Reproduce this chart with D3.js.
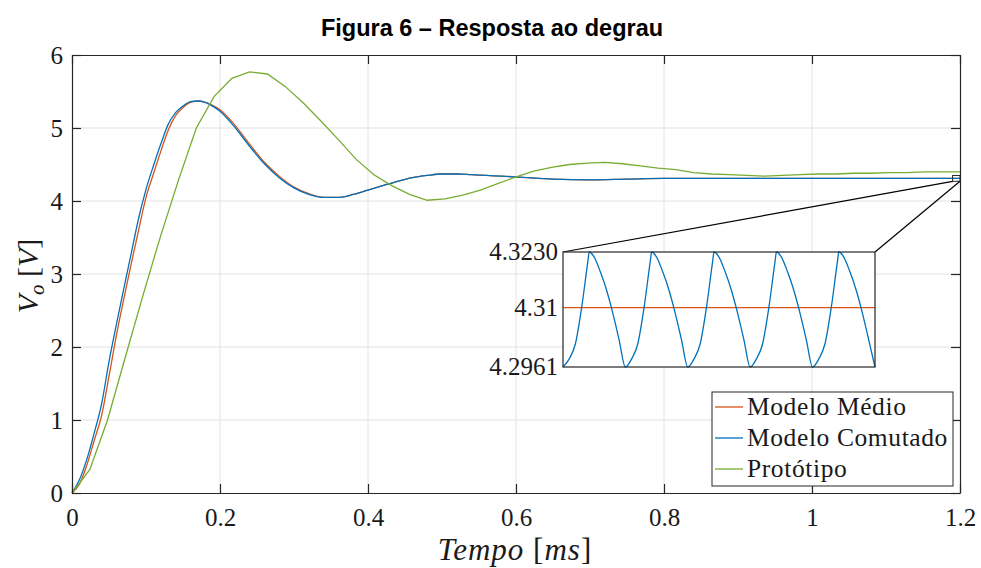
<!DOCTYPE html>
<meta charset="utf-8">
<style>
body { margin: 0; background: #fff; }
svg { font-family: "Liberation Serif", "Times New Roman", serif; }
.grid line { stroke: #e2e2e2; stroke-width: 1px; }
.axis path, .axis line { stroke: #262626; stroke-width: 1.2px; }
.axis text { fill: #1a1a1a; font-size: 25px; font-family: "Liberation Serif", serif; }
.title { font-family: "Liberation Sans", Arial, sans-serif; font-weight: bold; font-size: 23.5px; }
.curve { fill: none; stroke-width: 1.3px; }
</style>
<body>
<script src="https://cdn.jsdelivr.net/npm/d3@7"></script>
<script>
// Modelo Medio (orange)
var tMedio = [0, 0.01, 0.02, 0.03, 0.04, 0.05, 0.06, 0.07, 0.08, 0.09, 0.10, 0.11, 0.12, 0.13, 0.14, 0.15, 0.16, 0.17, 0.18, 0.19, 0.20,
  0.22, 0.24, 0.26, 0.28, 0.30, 0.32, 0.34, 0.36, 0.38, 0.40, 0.42, 0.44, 0.46, 0.48, 0.50, 0.52, 0.54, 0.56, 0.58, 0.60,
  0.65, 0.70, 0.75, 0.80, 0.85, 0.90, 0.95, 1.00, 1.05, 1.10, 1.15, 1.20];
var vMedio = [0, 0.12, 0.38, 0.72, 1.06, 1.60, 2.16, 2.66, 3.14, 3.60, 4.05, 4.37, 4.68, 4.97, 5.17, 5.28, 5.35, 5.37, 5.35, 5.31, 5.25,
  5.04, 4.78, 4.53, 4.34, 4.19, 4.10, 4.05, 4.05, 4.09, 4.15, 4.21, 4.27, 4.32, 4.35, 4.37, 4.37, 4.36, 4.35, 4.34, 4.33,
  4.30, 4.29, 4.30, 4.31, 4.31, 4.31, 4.31, 4.31, 4.31, 4.31, 4.31, 4.31];

// Modelo Comutado (blue)
var tComutado = tMedio;
var vComutado = [0, 0.18, 0.46, 0.82, 1.22, 1.80, 2.31, 2.80, 3.28, 3.76, 4.16, 4.48, 4.78, 5.05, 5.21, 5.30, 5.36, 5.37, 5.35, 5.30, 5.23,
  5.01, 4.75, 4.51, 4.32, 4.18, 4.09, 4.05, 4.05, 4.09, 4.15, 4.21, 4.27, 4.32, 4.35, 4.37, 4.37, 4.36, 4.35, 4.34, 4.33,
  4.30, 4.29, 4.30, 4.31, 4.31, 4.31, 4.31, 4.31, 4.31, 4.31, 4.31, 4.31];

// Prototipo (green), measured samples
var tPrototipo = [0, 0.024, 0.048, 0.072, 0.096, 0.120, 0.144, 0.168, 0.192, 0.216, 0.240, 0.264, 0.288, 0.312, 0.336, 0.360,
  0.384, 0.408, 0.432, 0.456, 0.480, 0.504, 0.528, 0.552, 0.576, 0.600, 0.624, 0.648, 0.672, 0.696, 0.720, 0.744, 0.768,
  0.792, 0.816, 0.840, 0.864, 0.888, 0.912, 0.936, 0.960, 0.984, 1.008, 1.032, 1.056, 1.080, 1.104, 1.128, 1.152, 1.176, 1.200];
var vPrototipo = [0, 0.32, 1.00, 1.86, 2.71, 3.53, 4.29, 5.00, 5.43, 5.68, 5.77, 5.74, 5.57, 5.35, 5.10, 4.84,
  4.57, 4.36, 4.21, 4.09, 4.01, 4.03, 4.08, 4.15, 4.24, 4.33, 4.41, 4.46, 4.50, 4.52, 4.53, 4.51, 4.48,
  4.45, 4.43, 4.39, 4.37, 4.36, 4.35, 4.34, 4.35, 4.36, 4.37, 4.37, 4.38, 4.38, 4.39, 4.39, 4.40, 4.40, 4.40];

// zoom window: one switching period of the ripple (ms offsets and volts)
var rippleT = [0, 0.0002, 0.0004, 0.0006, 0.0008, 0.00084, 0.001, 0.0012, 0.0014, 0.0016, 0.0018, 0.002];
var rippleV = [4.2961, 4.2980, 4.3016, 4.3101, 4.3210, 4.3230, 4.3218, 4.3183, 4.3140, 4.3086, 4.3024, 4.2961];
var insetStart = 1.19, insetPeriods = 5, ripplePeriod = 0.002;
var insetMedioT = [1.19, 1.20];
var insetMedioV = [4.31, 4.31];
var insetTicks = [4.2961, 4.31, 4.3230];
var insetTickLabels = ["4.2961", "4.31", "4.3230"];
var zoomBoxT = [1.19, 1.20], zoomBoxV = [4.27, 4.35];

var xTicks = [0, 0.2, 0.4, 0.6, 0.8, 1, 1.2];
var yTicks = [0, 1, 2, 3, 4, 5, 6];
var names = ["Modelo Médio", "Modelo Comutado", "Protótipo"];
var colors = ["#D95319", "#0072BD", "#77AC30"];

var W = 981, H = 568;
var pl = 72, pr = 960, pt = 55, pb = 493;

var svg = d3.select("body").append("svg").attr("width", W).attr("height", H);

var x = d3.scaleLinear().domain([0, 1.2]).range([pl, pr]);
var y = d3.scaleLinear().domain([0, 6]).range([pb, pt]);

// grid
var grid = svg.append("g").attr("class", "grid");
grid.selectAll(".gx").data(xTicks.slice(1, -1)).enter().append("line")
    .attr("x1", function(d) { return x(d); }).attr("x2", function(d) { return x(d); })
    .attr("y1", pt).attr("y2", pb);
grid.selectAll(".gy").data(yTicks.slice(1, -1)).enter().append("line")
    .attr("y1", function(d) { return y(d); }).attr("y2", function(d) { return y(d); })
    .attr("x1", pl).attr("x2", pr);

function pairs(ts, vs) { return ts.map(function(t, i) { return [t, vs[i]]; }); }

var smooth = d3.line().x(function(d) { return x(d[0]); }).y(function(d) { return y(d[1]); }).curve(d3.curveMonotoneX);
var straight = d3.line().x(function(d) { return x(d[0]); }).y(function(d) { return y(d[1]); });

svg.append("path").attr("class", "curve").attr("stroke", colors[0]).attr("stroke-width", 1.7)
    .attr("d", smooth(pairs(tMedio, vMedio)));
svg.append("path").attr("class", "curve").attr("stroke", colors[1]).attr("stroke-width", 1.4)
    .attr("d", smooth(pairs(tComutado, vComutado)));
svg.append("path").attr("class", "curve").attr("stroke", colors[2])
    .attr("d", straight(pairs(tPrototipo, vPrototipo)));

// axes (ticks inward on all four sides)
svg.append("g").attr("class", "axis").attr("transform", "translate(0," + pb + ")")
    .call(d3.axisBottom(x).tickValues(xTicks).tickFormat(function(d) { return String(d); })
      .tickSize(-9).tickSizeOuter(0).tickPadding(15));
svg.append("g").attr("class", "axis").attr("transform", "translate(0," + pt + ")")
    .call(d3.axisTop(x).tickValues(xTicks).tickFormat("").tickSize(-9).tickSizeOuter(0));
svg.append("g").attr("class", "axis").attr("transform", "translate(" + pl + ",0)")
    .call(d3.axisLeft(y).tickValues(yTicks).tickFormat(function(d) { return String(d); })
      .tickSize(-9).tickSizeOuter(0).tickPadding(9));
svg.append("g").attr("class", "axis").attr("transform", "translate(" + pr + ",0)")
    .call(d3.axisRight(y).tickValues(yTicks).tickFormat("").tickSize(-9).tickSizeOuter(0));

// title
svg.append("text").attr("class", "title").attr("x", 492).attr("y", 36)
    .attr("text-anchor", "middle").text("Figura 6 – Resposta ao degrau");

// axis labels
var xl = svg.append("text").attr("x", 515).attr("y", 560).attr("text-anchor", "middle")
    .attr("font-size", 31).attr("letter-spacing", 1).attr("fill", "#1a1a1a");
xl.append("tspan").attr("font-style", "italic").text("Tempo");
xl.append("tspan").text(" [");
xl.append("tspan").attr("font-style", "italic").text("ms");
xl.append("tspan").text("]");

var yl = svg.append("text").attr("transform", "translate(38,276) rotate(-90)").attr("text-anchor", "middle")
    .attr("font-size", 30).attr("fill", "#1a1a1a");
yl.append("tspan").attr("font-style", "italic").text("V");
yl.append("tspan").attr("font-style", "italic").attr("font-size", 21).attr("dy", 6).text("o");
yl.append("tspan").attr("dy", -6).text(" [");
yl.append("tspan").attr("font-style", "italic").text("V");
yl.append("tspan").text("]");

// zoom marker and connecting lines
var ix = d3.scaleLinear().domain([insetStart, insetStart + insetPeriods * ripplePeriod]).range([563, 875]);
var iy = d3.scaleLinear().domain([4.2961, 4.3230]).range([367, 252]);

svg.append("rect").attr("x", x(zoomBoxT[0])).attr("y", y(zoomBoxV[1]))
    .attr("width", x(zoomBoxT[1]) - x(zoomBoxT[0])).attr("height", y(zoomBoxV[0]) - y(zoomBoxV[1]))
    .attr("fill", "none").attr("stroke", "#262626").attr("stroke-width", 1);
svg.append("line").attr("x1", ix.range()[0]).attr("y1", iy.range()[1])
    .attr("x2", x(zoomBoxT[0])).attr("y2", y(zoomBoxV[0])).attr("stroke", "#000").attr("stroke-width", 1.2);
svg.append("line").attr("x1", ix.range()[1]).attr("y1", iy.range()[1])
    .attr("x2", x(zoomBoxT[1])).attr("y2", y(zoomBoxV[0])).attr("stroke", "#000").attr("stroke-width", 1.2);

// inset
var inset = svg.append("g");
inset.append("rect").attr("x", 563).attr("y", 252).attr("width", 312).attr("height", 115)
    .attr("fill", "#fff");
var insetData = [];
for (var k = 0; k < insetPeriods; k++) {
  rippleT.forEach(function(t, i) {
    if (k > 0 && i === 0) return;
    insetData.push([insetStart + k * ripplePeriod + t, rippleV[i]]);
  });
}
var iline = d3.line().x(function(d) { return ix(d[0]); }).y(function(d) { return iy(d[1]); }).curve(d3.curveMonotoneX);
inset.append("path").attr("class", "curve").attr("stroke", colors[0])
    .attr("d", iline(pairs(insetMedioT, insetMedioV)));
inset.append("path").attr("class", "curve").attr("stroke", colors[1])
    .attr("d", iline(insetData));
inset.append("rect").attr("x", 563).attr("y", 252).attr("width", 312).attr("height", 115)
    .attr("fill", "none").attr("stroke", "#262626").attr("stroke-width", 1.2);
inset.selectAll(".il").data(insetTicks).enter().append("text")
    .attr("x", 558).attr("y", function(d) { return iy(d); }).attr("dy", "0.33em")
    .attr("text-anchor", "end").attr("font-size", 25).attr("fill", "#1a1a1a")
    .text(function(d, i) { return insetTickLabels[i]; });

// legend
var lg = svg.append("g").attr("transform", "translate(712,392)");
lg.append("rect").attr("width", 241).attr("height", 94).attr("fill", "#fff")
    .attr("stroke", "#262626").attr("stroke-width", 1);
names.forEach(function(n, i) {
  var yy = 15 + i * 31;
  lg.append("line").attr("x1", 3).attr("x2", 31).attr("y1", yy).attr("y2", yy)
    .attr("stroke", colors[i]).attr("stroke-width", 1.3);
  lg.append("text").attr("x", 35).attr("y", yy).attr("dy", "0.33em").attr("font-size", 25.5)
    .attr("letter-spacing", 0.6).attr("fill", "#1a1a1a").text(n);
});
</script>
